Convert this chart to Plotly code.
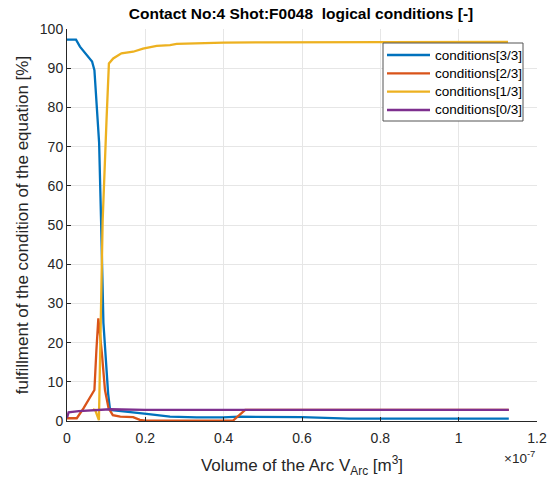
import plotly.graph_objects as go

# x values in units of 1e-7 m^3
blue_x = [0, 0.023, 0.033, 0.051, 0.064, 0.070, 0.082, 0.087, 0.093, 0.105, 0.110, 0.15, 0.186, 0.203, 0.263, 0.331, 0.398, 0.44, 0.60, 0.72, 0.90, 1.128]
blue_y = [97.3, 97.3, 95.5, 93.4, 91.7, 89.5, 71, 51, 25, 7, 2.8, 2.4, 2.1, 1.8, 1.1, 0.9, 0.95, 1.1, 1.0, 0.6, 0.6, 0.6]

orange_x = [0, 0.025, 0.042, 0.059, 0.070, 0.075, 0.080, 0.089, 0.097, 0.106, 0.117, 0.136, 0.169, 0.186, 0.20, 0.424, 0.455, 1.128]
orange_y = [0.7, 0.7, 3.2, 6.0, 7.9, 18, 26.2, 17.3, 7.9, 3.3, 1.5, 1.1, 1.0, 0.3, 0.1, 0.1, 2.85, 2.85]

yellow_x = [0.066, 0.072, 0.0815, 0.087, 0.091, 0.101, 0.107, 0.118, 0.139, 0.169, 0.194, 0.229, 0.263, 0.280, 0.314, 0.40, 0.50, 0.80, 1.126]
yellow_y = [3.0, 2.8, 0.2, 26, 51, 77, 91.2, 92.5, 93.8, 94.2, 95.0, 95.7, 95.9, 96.2, 96.3, 96.5, 96.6, 96.7, 96.7]

purple_x = [0, 0.004, 0.03, 0.06, 0.09, 0.11, 0.2, 1.128]
purple_y = [0.8, 2.2, 2.5, 2.7, 2.9, 3.0, 2.85, 2.85]

names = ["conditions[3/3]", "conditions[2/3]", "conditions[1/3]", "conditions[0/3]"]
colors = ["#0072BD", "#D95319", "#EDB120", "#7E2F8E"]

x_ticks = [0, 0.2, 0.4, 0.6, 0.8, 1, 1.2]
x_tick_labels = ["0", "0.2", "0.4", "0.6", "0.8", "1", "1.2"]
y_ticks = list(range(0, 101, 10))

# plot-area geometry (pixels)
L, R, T, B = 67, 537, 29, 421
W, H = 547, 483


def px(x):
    return (x - L) / (R - L)


def py(y):
    return (B - y) / (B - T)


fig = go.Figure()
for xs, ys, nm, c in zip([blue_x, orange_x, yellow_x, purple_x],
                         [blue_y, orange_y, yellow_y, purple_y], names, colors):
    fig.add_trace(go.Scatter(x=xs, y=ys, mode="lines", name=nm, showlegend=False,
                             line=dict(color=c, width=2.3), cliponaxis=False))

fnt = "Liberation Sans, Arial, sans-serif"
fig.update_layout(
    width=W, height=H,
    margin=dict(l=L, r=W - R, t=T, b=H - B),
    paper_bgcolor="white", plot_bgcolor="white",
    font=dict(family=fnt, size=14, color="#262626"),
    title=dict(text="<b>Contact No:4 Shot:F0048  logical conditions [-]</b>",
               x=px(301), xref="paper", xanchor="center",
               y=1 - 14 / H, yanchor="middle",
               font=dict(size=15.5, color="black", family=fnt)),
    showlegend=False,
    xaxis=dict(range=[0, 1.2], tickvals=x_ticks, ticktext=x_tick_labels,
               ticks="inside", ticklen=4, tickcolor="#262626",
               showline=True, linecolor="#262626", linewidth=1, mirror=False,
               showgrid=True, gridcolor="#e6e6e6", gridwidth=1, zeroline=False,
               automargin=False, ticklabeloverflow="allow", ticklabelstandoff=4,
               title=dict(text="Volume of the Arc V<sub>Arc</sub> [m<sup>3</sup>]", standoff=14),
               tickfont=dict(size=14)),
    yaxis=dict(range=[0, 100], tickvals=y_ticks,
               ticks="inside", ticklen=4, tickcolor="#262626",
               showline=True, linecolor="#262626", linewidth=1, mirror=False,
               showgrid=True, gridcolor="#e6e6e6", gridwidth=1, zeroline=False,
               automargin=False, ticklabeloverflow="allow",
               title=dict(text="fulfillment of the condition of the equation [%]", standoff=6),
               tickfont=dict(size=14)),
)
fig.add_annotation(text="\u00d710<sup>-7</sup>", xref="paper", yref="paper",
                   x=1.0, y=py(446), xanchor="right", yanchor="top",
                   showarrow=False, font=dict(size=13.5, color="#262626"))

# Legend box drawn manually (Matlab-style: long line samples, tight rows)
fig.add_shape(type="rect", xref="paper", yref="paper",
              x0=px(383), x1=px(523), y0=py(121), y1=py(43),
              line=dict(color="#555555", width=1), fillcolor="white", layer="above")
row_y = [55, 73.3, 91.7, 110]
for nm, c, ry in zip(names, colors, row_y):
    fig.add_shape(type="line", xref="paper", yref="paper",
                  x0=px(387), x1=px(430), y0=py(ry), y1=py(ry),
                  line=dict(color=c, width=2.3), layer="above")
    fig.add_annotation(text=nm, xref="paper", yref="paper", x=px(433), y=py(ry),
                       xanchor="left", yanchor="middle", showarrow=False,
                       font=dict(size=13.5, color="black"))

fig.write_html("out.html", config={"displayModeBar": False},
               post_script="document.body.style.margin='0';document.body.style.padding='0';")
